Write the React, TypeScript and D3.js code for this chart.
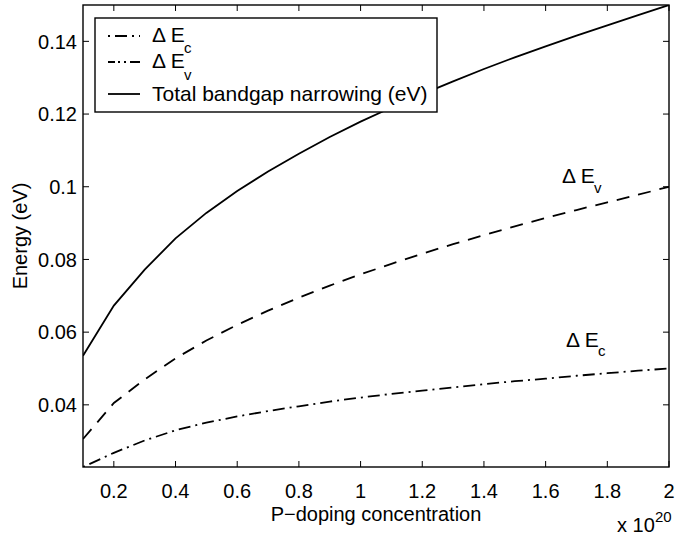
import React from 'react';
import * as d3 from 'd3';

// P-doping concentration (units of 1e20 cm^-3)
const doping = [0.1, 0.2, 0.3, 0.4, 0.5, 0.6, 0.7, 0.8, 0.9, 1.0, 1.1, 1.2, 1.3, 1.4, 1.5, 1.6, 1.7, 1.8, 1.9, 2.0];

// Conduction band shift (eV)
const deltaEc = [0.0229, 0.0268, 0.0302, 0.0330, 0.0351, 0.0368, 0.0383, 0.0396, 0.0409, 0.0420, 0.0430, 0.0439, 0.0448, 0.0457, 0.0465, 0.0472, 0.0480, 0.0487, 0.0494, 0.0500];

// Valence band shift (eV)
const deltaEv = [0.0306, 0.0405, 0.0470, 0.0528, 0.0577, 0.0620, 0.0659, 0.0695, 0.0728, 0.0759, 0.0788, 0.0816, 0.0842, 0.0867, 0.0891, 0.0914, 0.0936, 0.0957, 0.0978, 0.1000];

// Total bandgap narrowing (eV)
const totalNarrowing = [0.0535, 0.0673, 0.0772, 0.0858, 0.0928, 0.0988, 0.1042, 0.1091, 0.1137, 0.1179, 0.1218, 0.1255, 0.1290, 0.1324, 0.1356, 0.1386, 0.1416, 0.1444, 0.1472, 0.1500];

const xTicks = [0.2, 0.4, 0.6, 0.8, 1.0, 1.2, 1.4, 1.6, 1.8, 2.0];
const xTickLabels = ['0.2', '0.4', '0.6', '0.8', '1', '1.2', '1.4', '1.6', '1.8', '2'];
const yTicks = [0.04, 0.06, 0.08, 0.1, 0.12, 0.14];
const yTickLabels = ['0.04', '0.06', '0.08', '0.1', '0.12', '0.14'];

const W = 677;
const H = 538;
const box = { left: 83, right: 669, top: 5, bottom: 467 };
const FONT = "'Liberation Sans', Arial, Helvetica, sans-serif";
const FS = 21;
const TICK_FS = 20;
const SUB = 15;
const TICK = 6;

const DASHDOT = '12,5,2,5';
const DASHED = '13,9';

export default function App() {
  const x = d3.scaleLinear()
    .domain([doping[0], doping[doping.length - 1]])
    .range([box.left, box.right]);
  const extent = d3.extent([...deltaEc, ...deltaEv, ...totalNarrowing]) as [number, number];
  const y = d3.scaleLinear().domain(extent).range([box.bottom, box.top]);

  const path = (vals: number[]) =>
    d3.line<number>()
      .x((_, i) => x(doping[i]))
      .y((d) => y(d))(vals) || '';

  const lg = { x: 95, y: 18, w: 342, h: 94 };

  return (
    <svg width={W} height={H} style={{ position: 'absolute', left: 0, top: 0, display: 'block', background: '#fff' }}
      fontFamily={FONT}>
      <defs>
        <clipPath id="plotArea">
          <rect x={box.left} y={box.top} width={box.right - box.left} height={box.bottom - box.top} />
        </clipPath>
      </defs>
      <rect x={0} y={0} width={W} height={H} fill="#fff" />

      {/* data curves */}
      <g clipPath="url(#plotArea)" fill="none" stroke="#000" strokeWidth={1.8}>
        <path d={path(totalNarrowing)} />
        <path d={path(deltaEv)} strokeDasharray={DASHED} />
        <path d={path(deltaEc)} strokeDasharray={DASHDOT} strokeDashoffset={17} />
      </g>

      {/* ticks on all four sides */}
      <g stroke="#000" strokeWidth={1}>
        {xTicks.map((t) => (
          <g key={'xt' + t}>
            <line x1={x(t)} x2={x(t)} y1={box.bottom} y2={box.bottom - TICK} />
            <line x1={x(t)} x2={x(t)} y1={box.top} y2={box.top + TICK} />
          </g>
        ))}
        {yTicks.map((t) => (
          <g key={'yt' + t}>
            <line x1={box.left} x2={box.left + TICK} y1={y(t)} y2={y(t)} />
            <line x1={box.right} x2={box.right - TICK} y1={y(t)} y2={y(t)} />
          </g>
        ))}
      </g>

      <rect x={box.left} y={box.top} width={box.right - box.left} height={box.bottom - box.top}
        fill="none" stroke="#000" strokeWidth={1.4} />

      {/* tick labels */}
      <g fontSize={TICK_FS} fill="#000">
        {xTicks.map((t, i) => (
          <text key={'xl' + t} x={x(t)} y={498} textAnchor="middle">{xTickLabels[i]}</text>
        ))}
        {yTicks.map((t, i) => (
          <text key={'yl' + t} x={77} y={y(t)} dy="0.36em" textAnchor="end">{yTickLabels[i]}</text>
        ))}
      </g>

      {/* axis titles */}
      <text x={(box.left + box.right) / 2} y={521} fontSize={TICK_FS} textAnchor="middle">P−doping concentration</text>
      <text transform={`translate(27,${(box.top + box.bottom) / 2}) rotate(-90)`} fontSize={TICK_FS} textAnchor="middle">Energy (eV)</text>
      <text x={617} y={532} fontSize={TICK_FS}>x 10</text>
      <text x={655} y={522} fontSize={SUB}>20</text>

      {/* in-plot curve labels */}
      <text x={562} y={183} fontSize={FS}>Δ E</text>
      <text x={594} y={193} fontSize={SUB}>v</text>
      <text x={566} y={347} fontSize={FS}>Δ E</text>
      <text x={598} y={356} fontSize={SUB}>c</text>

      {/* legend */}
      <rect x={lg.x} y={lg.y} width={lg.w} height={lg.h} fill="#fff" stroke="#000" strokeWidth={1.4} />
      <g stroke="#000" strokeWidth={1.8} fill="none">
        <line x1={108} x2={140} y1={36} y2={36} strokeDasharray={DASHDOT} strokeDashoffset={17} />
        <line x1={108} x2={140} y1={62} y2={62} strokeDasharray="7,3,2,4,2,4,10" />
        <line x1={108} x2={140} y1={94} y2={94} />
      </g>
      <text x={152} y={42} fontSize={FS}>Δ E</text>
      <text x={184} y={53} fontSize={SUB}>c</text>
      <text x={152} y={68} fontSize={FS}>Δ E</text>
      <text x={184} y={80} fontSize={SUB}>v</text>
      <text x={152} y={101} fontSize={FS}>Total bandgap narrowing (eV)</text>
    </svg>
  );
}
